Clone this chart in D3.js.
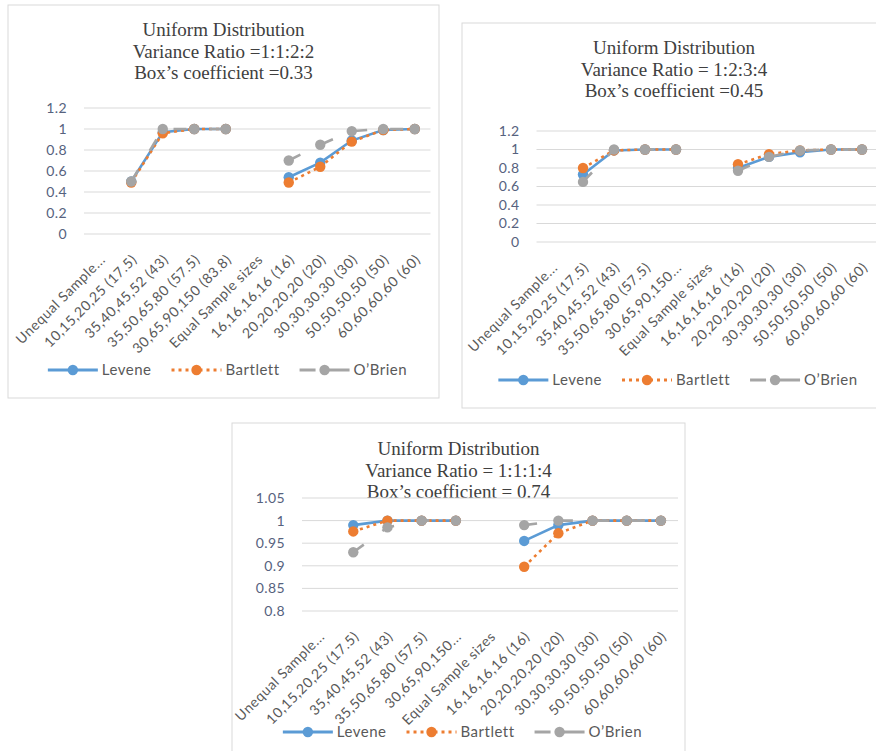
<!DOCTYPE html>
<html>
<head>
<meta charset="utf-8">
<script src="https://cdn.jsdelivr.net/npm/d3@7"></script>
<style>
  body { margin: 0; background: #fff; }
  svg { display: block; }
</style>
</head>
<body>
<svg id="fig" width="876" height="751"></svg>
<script>
// ---- data ----
const categoriesA = ["Unequal Sample...", "10,15,20,25 (17.5)", "35,40,45,52 (43)", "35,50,65,80 (57.5)",
  "30,65,90,150 (83.8)", "Equal Sample sizes", "16,16,16,16 (16)", "20,20,20,20 (20)",
  "30,30,30,30 (30)", "50,50,50,50 (50)", "60,60,60,60 (60)"];
const categoriesB = ["Unequal Sample...", "10,15,20,25 (17.5)", "35,40,45,52 (43)", "35,50,65,80 (57.5)",
  "30,65,90,150...", "Equal Sample sizes", "16,16,16,16 (16)", "20,20,20,20 (20)",
  "30,30,30,30 (30)", "50,50,50,50 (50)", "60,60,60,60 (60)"];

const seriesNames = ["Levene", "Bartlett", "O\u2019Brien"];

// Variance ratio 1:1:2:2
const levene1   = [null, 0.50, 0.97, 1.00, 1.00, null, 0.54, 0.68, 0.89, 0.99, 1.00];
const bartlett1 = [null, 0.49, 0.96, 1.00, 1.00, null, 0.49, 0.64, 0.88, 0.99, 1.00];
const obrien1   = [null, 0.50, 1.00, 1.00, 1.00, null, 0.70, 0.85, 0.98, 1.00, 1.00];

// Variance ratio 1:2:3:4
const levene2   = [null, 0.73, 0.99, 1.00, 1.00, null, 0.80, 0.92, 0.97, 1.00, 1.00];
const bartlett2 = [null, 0.80, 0.99, 1.00, 1.00, null, 0.84, 0.95, 0.99, 1.00, 1.00];
const obrien2   = [null, 0.65, 1.00, 1.00, 1.00, null, 0.77, 0.92, 0.99, 1.00, 1.00];

// Variance ratio 1:1:1:4
const levene3   = [null, 0.990, 1.000, 1.000, 1.000, null, 0.955, 0.990, 1.000, 1.000, 1.000];
const bartlett3 = [null, 0.976, 1.000, 1.000, 1.000, null, 0.898, 0.972, 1.000, 1.000, 1.000];
const obrien3   = [null, 0.930, 0.985, 1.000, 1.000, null, 0.990, 1.000, 1.000, 1.000, 1.000];

const ticksA = [0, 0.2, 0.4, 0.6, 0.8, 1, 1.2];
const tickLabelsA = ["0", "0.2", "0.4", "0.6", "0.8", "1", "1.2"];
const ticksB = [0.8, 0.85, 0.9, 0.95, 1, 1.05];
const tickLabelsB = ["0.8", "0.85", "0.9", "0.95", "1", "1.05"];

const titles1 = ["Uniform Distribution", "Variance Ratio =1:1:2:2", "Box\u2019s coefficient =0.33"];
const titles2 = ["Uniform Distribution", "Variance Ratio = 1:2:3:4", "Box\u2019s coefficient =0.45"];
const titles3 = ["Uniform Distribution", "Variance Ratio = 1:1:1:4", "Box\u2019s coefficient = 0.74"];

// ---- styling ----
const colors = ["#5B9BD5", "#ED7D31", "#A5A5A5"];
const dashes = [null, "3,4", "13,23"];
const legendDashes = [null, "3,4", "16,5,40"];
const labelFont = "Lato, 'Liberation Sans', sans-serif";
const labelColor = "#595959";

const svg = d3.select("#fig");

function drawPanel(p) {
  const g = svg.append("g");

  g.append("rect")
    .attr("x", p.box[0]).attr("y", p.box[1])
    .attr("width", p.box[2]).attr("height", p.box[3])
    .attr("fill", "#fff").attr("stroke", "#d9d9d9").attr("stroke-width", 1);

  // title
  const cx = p.box[0] + p.box[2] / 2;
  g.append("g").selectAll("text").data(p.titles).join("text")
    .attr("x", cx)
    .attr("y", (d, i) => p.titleY + i * p.titleGap)
    .attr("text-anchor", "middle")
    .attr("font-family", "'Liberation Serif', 'Times New Roman', serif")
    .attr("font-size", 19)
    .attr("fill", "#404040")
    .text(d => d);

  const x = d3.scaleBand().domain(p.categories).range(p.xRange);
  const y = d3.scaleLinear().domain(p.yDomain).range(p.yRange);
  const cxOf = i => x(p.categories[i]) + x.bandwidth() / 2;

  // gridlines
  g.append("g").selectAll("line").data(p.ticks).join("line")
    .attr("x1", p.xRange[0]).attr("x2", p.xRange[1])
    .attr("y1", d => y(d)).attr("y2", d => y(d))
    .attr("stroke", "#d9d9d9").attr("stroke-width", 1);

  // y axis labels
  const yAxis = g.append("g")
    .attr("transform", `translate(${p.xRange[0]},0)`)
    .call(d3.axisLeft(y).tickValues(p.ticks)
      .tickFormat((d, i) => p.tickLabels[i]).tickSize(0).tickPadding(17));
  yAxis.select(".domain").remove();
  yAxis.selectAll("text")
    .attr("font-family", labelFont).attr("font-size", 14)
    .attr("letter-spacing", "0.4px").attr("fill", "#56627e");

  // x axis labels, rotated
  const xAxis = g.append("g")
    .attr("transform", `translate(0,${p.yRange[0]})`)
    .call(d3.axisBottom(x).tickSize(0));
  xAxis.select(".domain").remove();
  xAxis.selectAll("text")
    .attr("x", 0).attr("y", 0).attr("dy", "0.35em")
    .attr("transform", "translate(3,23) rotate(-45)")
    .style("text-anchor", "end")
    .attr("font-family", labelFont).attr("font-size", 14)
    .attr("letter-spacing", "0.6px").attr("fill", labelColor);

  // series
  p.series.forEach((vals, s) => {
    const pts = vals.map((v, i) => ({ i, v }));
    const line = d3.line()
      .defined(d => d.v !== null)
      .x(d => cxOf(d.i))
      .y(d => y(d.v));
    g.append("path")
      .datum(pts)
      .attr("d", line)
      .attr("fill", "none")
      .attr("stroke", colors[s])
      .attr("stroke-width", 2.6)
      .attr("stroke-dasharray", dashes[s]);
    g.append("g").selectAll("circle")
      .data(pts.filter(d => d.v !== null))
      .join("circle")
      .attr("cx", d => cxOf(d.i))
      .attr("cy", d => y(d.v))
      .attr("r", 5.2)
      .attr("fill", colors[s]);
  });

  // legend
  const leg = g.append("g");
  const items = leg.selectAll("g").data(seriesNames).join("g");
  items.append("line")
    .attr("x1", 0).attr("x2", 50).attr("y1", 0).attr("y2", 0)
    .attr("stroke", (d, i) => colors[i]).attr("stroke-width", 2.8)
    .attr("stroke-dasharray", (d, i) => legendDashes[i]);
  items.append("circle")
    .attr("cx", 25).attr("cy", 0).attr("r", 5.2)
    .attr("fill", (d, i) => colors[i]);
  items.append("text")
    .attr("x", 54).attr("y", 0).attr("dy", "0.35em")
    .attr("font-family", labelFont).attr("font-size", 15)
    .attr("letter-spacing", "0.5px").attr("fill", labelColor)
    .text(d => d);
  const gap = 20;
  let offset = 0;
  items.each(function () {
    const w = 54 + this.querySelector("text").getComputedTextLength();
    d3.select(this).attr("transform", `translate(${offset},0)`);
    offset += w + gap;
  });
  const total = offset - gap;
  leg.attr("transform", `translate(${cx + 4 - total / 2},${p.legendY})`);
}

drawPanel({
  box: [8, 5, 431, 393],
  titles: titles1, titleY: 36, titleGap: 21.5,
  categories: categoriesA,
  xRange: [84, 430.5], yDomain: [0, 1.2], yRange: [234, 108],
  ticks: ticksA, tickLabels: tickLabelsA,
  series: [levene1, bartlett1, obrien1],
  legendY: 370
});

drawPanel({
  box: [462, 23, 424, 385],
  titles: titles2, titleY: 54, titleGap: 21.5,
  categories: categoriesB,
  xRange: [536.5, 877.5], yDomain: [0, 1.2], yRange: [242, 131],
  ticks: ticksA, tickLabels: tickLabelsA,
  series: [levene2, bartlett2, obrien2],
  legendY: 380
});

drawPanel({
  box: [232, 423, 453, 340],
  titles: titles3, titleY: 455, titleGap: 21.5,
  categories: categoriesB,
  xRange: [302, 678], yDomain: [0.8, 1.05], yRange: [611, 498],
  ticks: ticksB, tickLabels: tickLabelsB,
  series: [levene3, bartlett3, obrien3],
  legendY: 732
});
</script>
</body>
</html>
